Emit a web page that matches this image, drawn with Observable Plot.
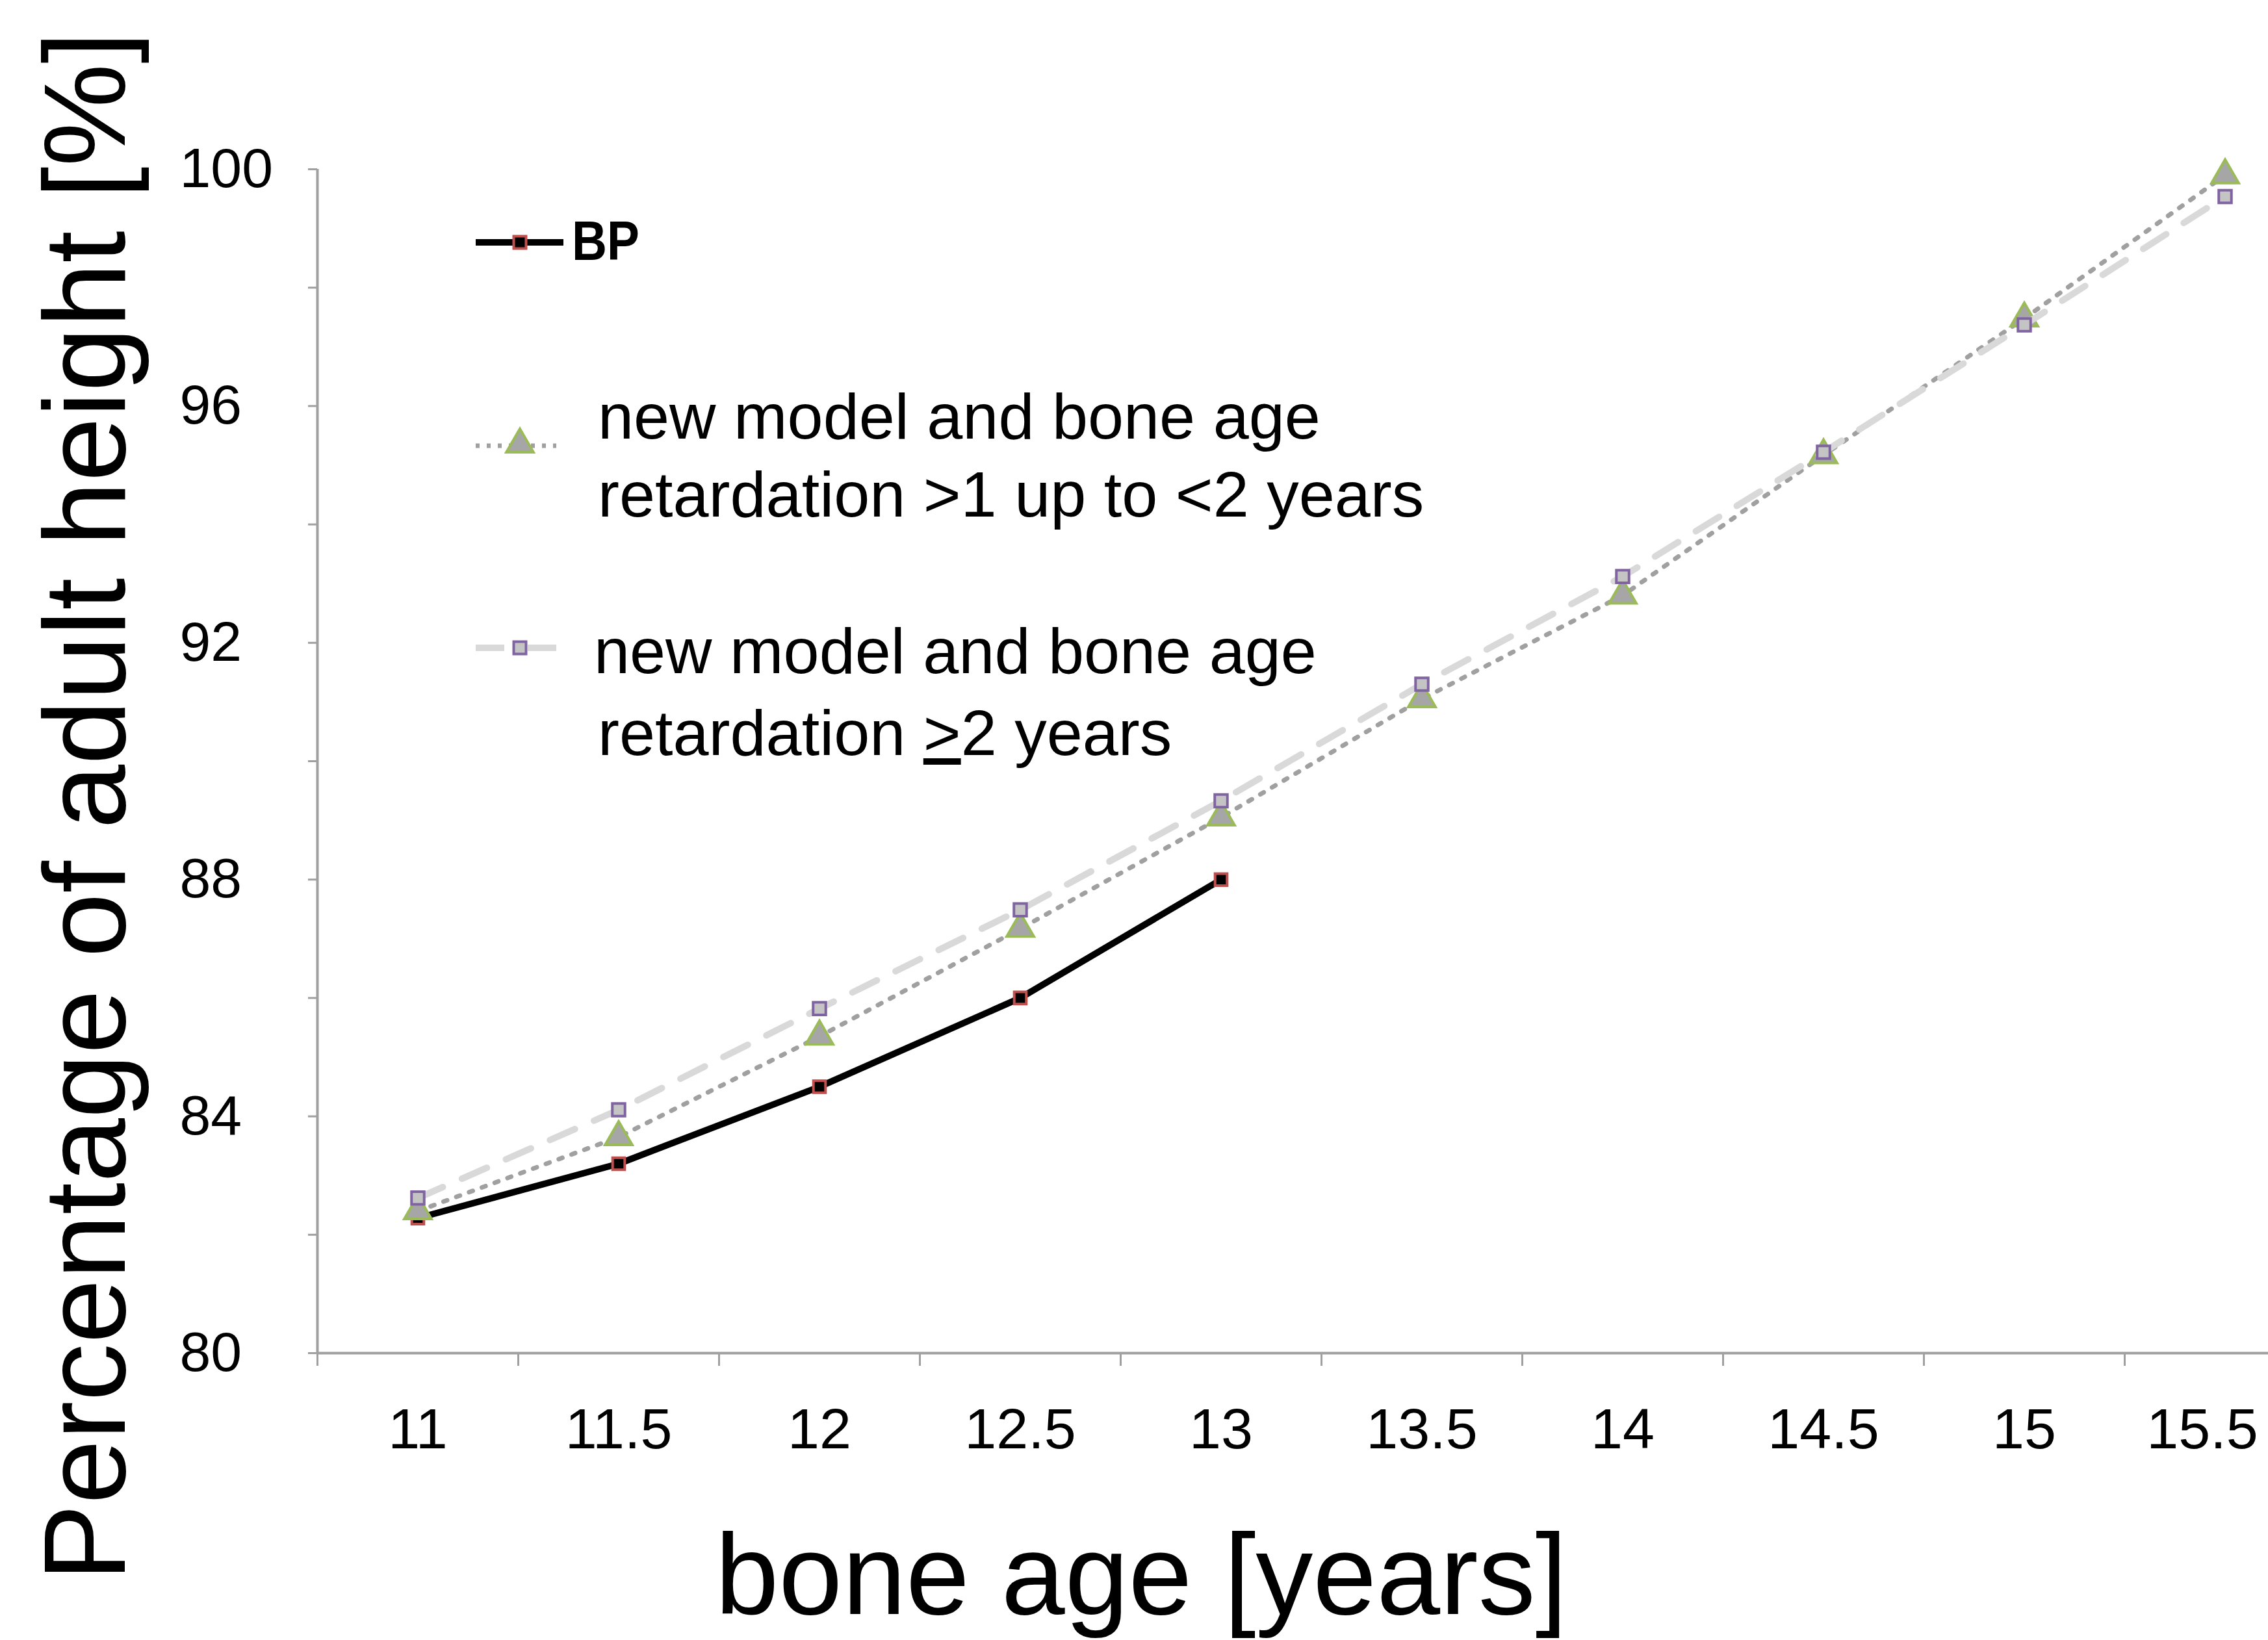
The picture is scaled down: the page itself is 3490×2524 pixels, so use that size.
<!DOCTYPE html>
<html><head><meta charset="utf-8">
<script src="https://cdn.jsdelivr.net/npm/d3@7"></script>
<script src="https://cdn.jsdelivr.net/npm/@observablehq/plot@0.6"></script>
<style>html,body{margin:0;padding:0;background:#fff;overflow:hidden}</style>
</head><body><div id="chart"></div>
<script>
// ---- data ----
const ages = [11, 11.5, 12, 12.5, 13, 13.5, 14, 14.5, 15, 15.5];
const xTickLabels = ["11", "11.5", "12", "12.5", "13", "13.5", "14", "14.5", "15", "15.5"];
const bpValues = [82.28, 83.2, 84.5, 86.0, 88.0];
const retard1to2Values = [82.4, 83.65, 85.35, 87.17, 89.05, 91.05, 92.8, 95.17, 97.48, 99.9];
const retard2plusValues = [82.62, 84.11, 85.82, 87.49, 89.33, 91.3, 93.12, 95.22, 97.37, 99.54];
const yTickLabels = [80, 84, 88, 92, 96, 100];
const yTickMarks = [80, 82, 84, 86, 88, 90, 92, 94, 96, 98, 100];
const yDomain = [80, 100];
const yTitle = "Percentage of adult height [%]";
const xTitle = "bone age [years]";
const legendBP = "BP";
const legend1 = ["new model and bone age", "retardation >1 up to <2 years"];
const legend2 = ["new model and bone age", "retardation ", ">", "2 years"];

// ---- layout ----
const W = 3490, H = 2524;
const ML = 488, MT = 260, MB = 442;
const catW = 309;
const half = (ages[1] - ages[0]) / 2;
const boundaries = ages.map(a => a - half).concat([ages[ages.length - 1] + half]);
const font = "'Liberation Sans', Arial, sans-serif";
const rows = vals => vals.map((v, i) => ({age: ages[i], value: v}));
const xLabel = d => xTickLabels[ages.indexOf(d)];

const axisGray = "#a0a0a0";
const cBP = {line: "#000000", fill: "#000000", stroke: "#c0504d"};
const cG = {line: "#a0a0a0", fill: "#a6a6a6", stroke: "#9bbb59", dash: "6,15"};
const cP = {line: "#d9d9d9", fill: "#c4c4c4", stroke: "#8064a2", dash: "42,32"};

const plot = Plot.plot({
  width: W, height: H,
  marginLeft: ML, marginTop: MT, marginBottom: MB, marginRight: 0,
  style: {fontFamily: font, background: "#fff", color: "#000"},
  x: {type: "linear", domain: [boundaries[0], boundaries[boundaries.length - 1]], range: [ML, ML + catW * ages.length]},
  y: {domain: yDomain},
  marks: [
    Plot.axisY({ticks: yTickMarks, tickSize: 14, tickFormat: () => "", stroke: axisGray, strokeWidth: 3, label: null}),
    Plot.axisY({ticks: yTickLabels, tickSize: 0, tickPadding: 212, textAnchor: "start", fontSize: 86, fill: "#000", label: null}),
    Plot.axisX({ticks: boundaries, tickSize: 20, tickFormat: () => "", stroke: axisGray, strokeWidth: 3, label: null}),
    Plot.axisX({ticks: ages.slice(0, -1), tickSize: 0, tickPadding: 84, tickFormat: xLabel, fontSize: 88, fill: "#000", label: null}),
    Plot.axisX({ticks: ages.slice(-1), tickSize: 0, tickPadding: 84, tickFormat: xLabel, fontSize: 88, fill: "#000", dx: -35, label: null}),
    Plot.ruleX([boundaries[0]], {stroke: axisGray, strokeWidth: 4}),
    Plot.ruleY([yDomain[0]], {stroke: axisGray, strokeWidth: 4}),
    Plot.line(rows(bpValues), {x: "age", y: "value", stroke: cBP.line, strokeWidth: 10}),
    Plot.dot(rows(bpValues), {x: "age", y: "value", symbol: "square", r: 10.5, fill: cBP.fill, stroke: cBP.stroke, strokeWidth: 4}),
    Plot.line(rows(retard1to2Values), {x: "age", y: "value", stroke: cG.line, strokeWidth: 7, strokeDasharray: cG.dash}),
    Plot.dot(rows(retard1to2Values), {x: "age", y: "value", symbol: "triangle", r: 15.5, fill: cG.fill, stroke: cG.stroke, strokeWidth: 4}),
    Plot.line(rows(retard2plusValues), {x: "age", y: "value", stroke: cP.line, strokeWidth: 10, strokeDasharray: cP.dash}),
    Plot.dot(rows(retard2plusValues), {x: "age", y: "value", symbol: "square", r: 11, fill: cP.fill, stroke: cP.stroke, strokeWidth: 4})
  ]
});
document.getElementById("chart").appendChild(plot);

// ---- titles and legend ----
const svg = d3.select(plot);
svg.append("text")
  .attr("transform", "translate(192,1241) rotate(-90)")
  .attr("text-anchor", "middle").attr("font-size", 178).attr("font-family", font).attr("fill", "#000")
  .text(yTitle);
svg.append("text")
  .attr("x", 1756).attr("y", 2484)
  .attr("text-anchor", "middle").attr("font-size", 176).attr("font-family", font).attr("fill", "#000")
  .text(xTitle);

const lg = svg.append("g").attr("font-family", font).attr("fill", "#000").attr("text-anchor", "start");
// BP
lg.append("line").attr("x1", 732).attr("x2", 867).attr("y1", 373).attr("y2", 373).attr("stroke", cBP.line).attr("stroke-width", 10);
lg.append("path").attr("transform", "translate(800,373)").attr("d", d3.symbol(d3.symbolSquare, 19 * 19)())
  .attr("fill", cBP.fill).attr("stroke", cBP.stroke).attr("stroke-width", 4);
lg.append("text").attr("x", 880).attr("y", 400).attr("font-size", 86).attr("font-weight", "bold")
  .attr("textLength", 104).attr("lengthAdjust", "spacingAndGlyphs").text(legendBP);
// series 2
lg.append("line").attr("x1", 732).attr("x2", 856).attr("y1", 686).attr("y2", 686).attr("stroke", cG.line).attr("stroke-width", 7).attr("stroke-dasharray", "6,11");
lg.append("path").attr("transform", "translate(800,684)").attr("d", d3.symbol(d3.symbolTriangle, Math.PI * 15.5 * 15.5)())
  .attr("fill", cG.fill).attr("stroke", cG.stroke).attr("stroke-width", 4);
lg.append("text").attr("x", 920).attr("y", 675).attr("font-size", 99).text(legend1[0]);
lg.append("text").attr("x", 920).attr("y", 795).attr("font-size", 99).text(legend1[1]);
// series 3
lg.append("line").attr("x1", 732).attr("x2", 856).attr("y1", 997).attr("y2", 997).attr("stroke", cP.line).attr("stroke-width", 10).attr("stroke-dasharray", "44,36");
lg.append("path").attr("transform", "translate(800,997)").attr("d", d3.symbol(d3.symbolSquare, 19 * 19)())
  .attr("fill", cP.fill).attr("stroke", cP.stroke).attr("stroke-width", 4);
lg.append("text").attr("x", 914).attr("y", 1036).attr("font-size", 99).text(legend2[0]);
const t2 = lg.append("text").attr("x", 920).attr("y", 1162).attr("font-size", 99);
t2.append("tspan").text(legend2[1]);
t2.append("tspan").attr("text-decoration", "underline").style("text-decoration", "underline").text(legend2[2]);
t2.append("tspan").text(legend2[3]);
</script>
</body></html>
